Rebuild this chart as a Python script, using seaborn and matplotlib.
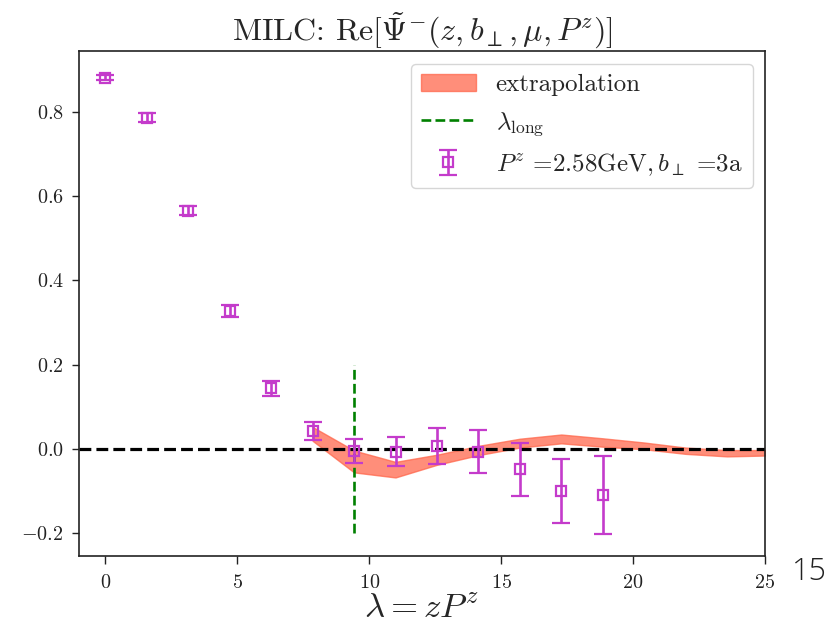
import numpy as np
import pandas as pd
import matplotlib
matplotlib.use('Agg')
import matplotlib.pyplot as plt
import seaborn as sns

# ---- data ----
lam = [0.0, 1.571, 3.142, 4.712, 6.283, 7.854, 9.425, 10.996, 12.566, 14.137, 15.708, 17.279, 18.850]
re_psi = [0.882, 0.787, 0.566, 0.328, 0.144, 0.042, -0.005, -0.007, 0.007, -0.007, -0.049, -0.100, -0.110]
re_err = [0.007, 0.010, 0.011, 0.014, 0.018, 0.022, 0.028, 0.034, 0.042, 0.051, 0.062, 0.077, 0.092]

band_lam = [7.854, 9.425, 10.996, 12.566, 14.137, 15.708, 17.279, 18.850, 20.420, 21.991, 23.562, 25.0]
band_hi = [0.052, -0.004, -0.031, -0.014, 0.007, 0.024, 0.034, 0.025, 0.015, 0.003, -0.003, -0.003]
band_lo = [0.019, -0.056, -0.068, -0.038, -0.015, 0.003, 0.013, 0.005, -0.001, -0.012, -0.018, -0.016]

lam_long = 9.425
lam_long_range = [-0.2, 0.2]

xticks = [0, 5, 10, 15, 20, 25]
yticks = [-0.2, 0.0, 0.2, 0.4, 0.6, 0.8]

title = r"MILC: $\mathrm{Re}[\tilde{\Psi}^{-}(z,b_{\perp},\mu,P^{z})]$"
xlabel = r"$\lambda=zP^{z}$"
lbl_band = "extrapolation"
lbl_long = r"$\lambda_{\rm long}$"
lbl_data = r"$P^{z}$ =2.58GeV$,b_{\perp}$ =3a"

df = pd.DataFrame({"lam": lam, "val": re_psi, "err": re_err})
bdf = pd.DataFrame({"lam": band_lam, "hi": band_hi, "lo": band_lo})

# ---- style ----
sns.set_theme(style="ticks")
plt.rcParams.update({
    "font.family": "serif",
    "font.serif": ["cmr10", "DejaVu Serif"],
    "mathtext.fontset": "cm",
    "axes.formatter.use_mathtext": True,
    "axes.unicode_minus": True,
    "axes.edgecolor": "#222222",
    "axes.linewidth": 1.2,
    "xtick.direction": "out",
    "ytick.direction": "out",
    "xtick.major.size": 5.5,
    "ytick.major.size": 5.0,
    "xtick.major.width": 1.0,
    "ytick.major.width": 1.0,
    "xtick.color": "#222222",
    "ytick.color": "#222222",
})

fig = plt.figure(figsize=(8.39, 6.26), dpi=100)
ax = fig.add_axes([79 / 839, 1 - 556 / 626, (765 - 79) / 839, (556 - 51) / 626])

mag = "#c43bcb"

h_band = ax.fill_between(bdf["lam"], bdf["lo"], bdf["hi"], color="tomato", alpha=0.72,
                         linewidth=1.0, zorder=1)
ax.axhline(0.0, color="black", ls="--", lw=2.3, zorder=2)
h_long, = ax.plot([lam_long, lam_long], lam_long_range, color="green", ls="--", lw=1.9, zorder=2)
h_data = ax.errorbar(df["lam"], df["val"], yerr=df["err"], fmt="s", color=mag,
                     mfc="none", mec=mag, ms=6.5, mew=1.6, elinewidth=1.9,
                     capsize=6.2, capthick=1.9, zorder=3)

ax.set_xlim(-1, 25)
ax.set_ylim(-0.2546, 0.945)
ax.set_xticks(xticks)
ax.set_yticks(yticks)
ax.tick_params(axis="x", labelsize=14.5, pad=7.5)
ax.tick_params(axis="y", labelsize=14.5, pad=6)
ax.set_title(title, fontsize=23, pad=7)
ax.set_xlabel(xlabel, fontsize=25, labelpad=0.5)

leg = ax.legend([h_band, h_long, h_data], [lbl_band, lbl_long, lbl_data],
                loc="upper right", fontsize=18, handlelength=2.2, handletextpad=0.8,
                borderaxespad=0.5, frameon=True, fancybox=True, framealpha=0.8,
                edgecolor="#cccccc", labelspacing=0.55, borderpad=0.4)

fig.text(809 / 839, 1 - 572 / 626, "15", fontsize=22, family="Open Sans", fontweight=300,
         color="#222222", ha="center", va="center")

fig.savefig("out.png", dpi=100)
